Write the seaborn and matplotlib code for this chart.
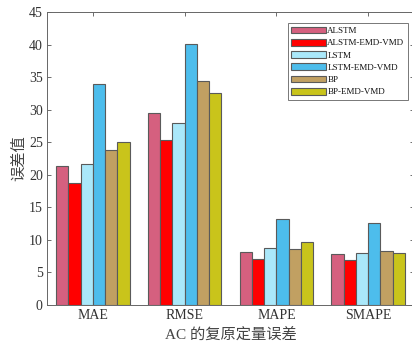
import matplotlib
matplotlib.use("Agg")
import matplotlib.pyplot as plt
import seaborn as sns
import pandas as pd

metrics = ["MAE", "RMSE", "MAPE", "SMAPE"]
models = ["ALSTM", "ALSTM-EMD-VMD", "LSTM", "LSTM-EMD-VMD", "BP", "BP-EMD-VMD"]

alstm = [21.4, 29.5, 8.1, 7.8]
alstm_emd_vmd = [18.8, 25.4, 7.0, 6.9]
lstm = [21.6, 27.9, 8.75, 8.0]
lstm_emd_vmd = [33.9, 40.1, 13.25, 12.6]
bp = [23.75, 34.35, 8.55, 8.3]
bp_emd_vmd = [25.1, 32.5, 9.6, 7.95]

colors = ["#D5607F", "#FF0000", "#AAE8FA", "#4DBDEC", "#C1A062", "#C9C41B"]

series = [alstm, alstm_emd_vmd, lstm, lstm_emd_vmd, bp, bp_emd_vmd]
rows = []
for name, vals in zip(models, series):
    for m, v in zip(metrics, vals):
        rows.append({"metric": m, "model": name, "value": v})
df = pd.DataFrame(rows)

sns.set_style("white")
latin = "Liberation Serif"
mixed = ["Liberation Serif", "Noto Sans CJK SC"]
plt.rcParams["font.family"] = mixed

fig = plt.figure(figsize=(4.12, 3.48), dpi=100)
ax = fig.add_axes([47 / 412, 1 - 305 / 348, 367 / 412, 293 / 348])

sns.barplot(data=df, x="metric", y="value", hue="model", order=metrics,
            hue_order=models, palette=colors, width=0.8, edgecolor="#5a5a5a",
            linewidth=0.8, saturation=1, ax=ax)

ax.set_ylim(0, 45)
ax.set_xlim(-0.5, 3.5)
ax.set_yticks(range(0, 46, 5))
ax.set_xticks(range(4))
ax.set_xticklabels(metrics, fontsize=10, family=latin, color="#333333")
for lab in ax.get_yticklabels():
    lab.set_family(latin)
    lab.set_fontsize(10)
    lab.set_color("#333333")

ax.tick_params(axis="both", direction="in", length=3, width=0.6, color="#555555",
               top=True, right=True, left=True, bottom=False, pad=3)
for s in ax.spines.values():
    s.set_visible(True)
    s.set_color("#666666")
    s.set_linewidth(0.7)

ax.set_ylabel("误差值", fontsize=11, color="#444444", family=mixed, labelpad=2)
ax.set_xlabel("AC 的复原定量误差", fontsize=11, color="#444444", family=mixed, labelpad=4)

leg = ax.legend(loc="upper right", bbox_to_anchor=(0.984, 0.962), borderaxespad=0,
                prop={"family": latin, "size": 6.5}, frameon=True, fancybox=False,
                edgecolor="#555555", handlelength=3.8, handleheight=0.75,
                labelspacing=0.42, handletextpad=0.2, borderpad=0.4)
leg.get_frame().set_linewidth(0.7)
for t in leg.get_texts():
    t.set_color("#111111")

fig.savefig("out.png", dpi=100)
